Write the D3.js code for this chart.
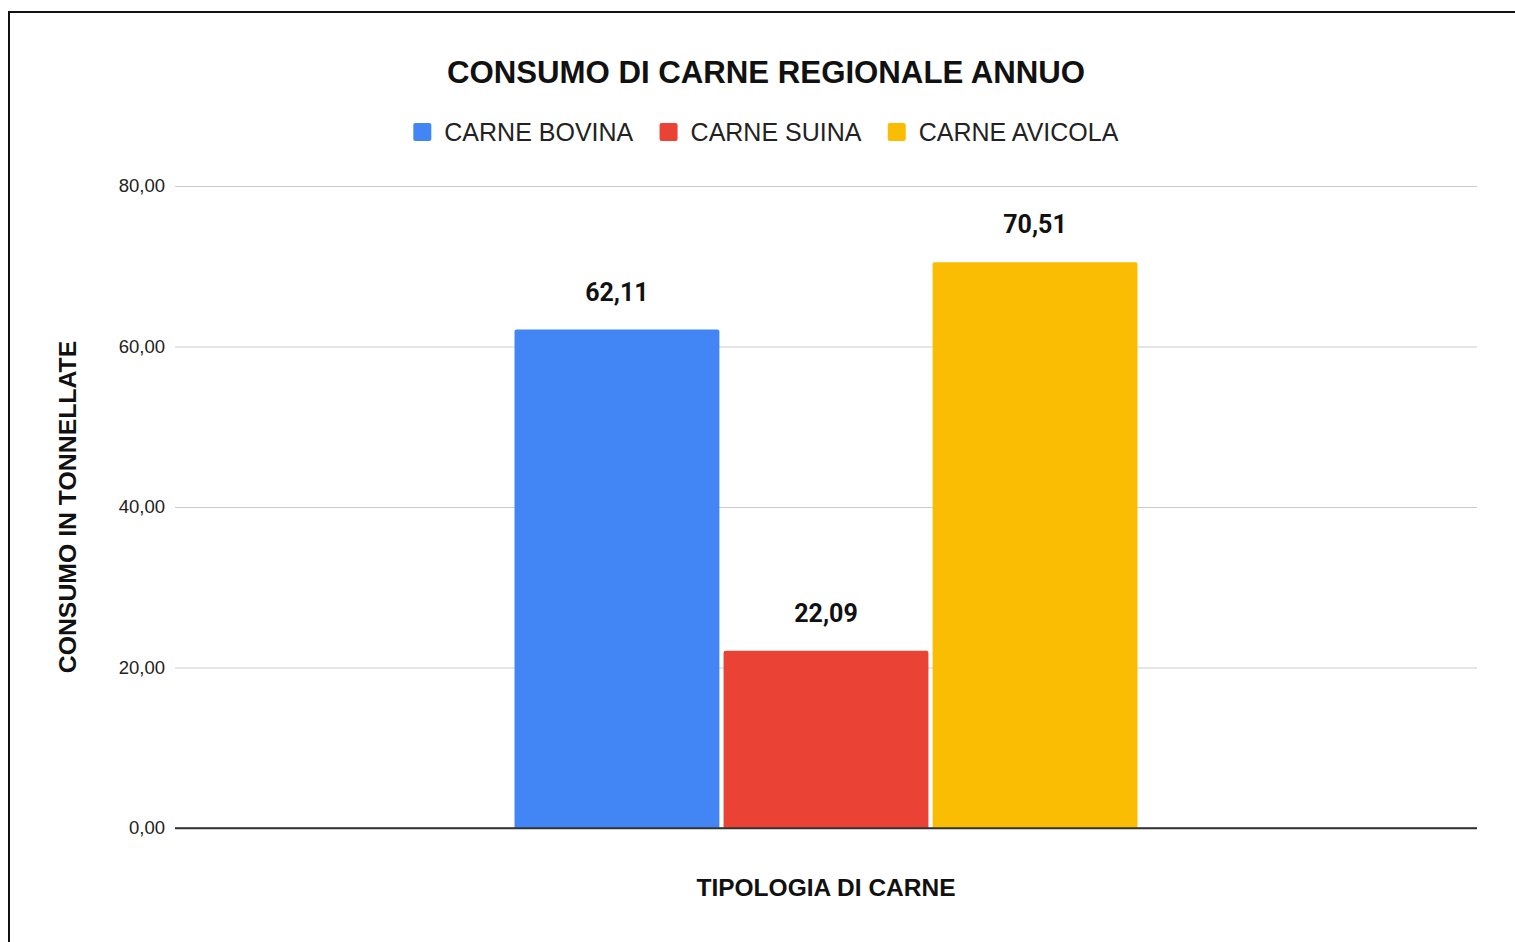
<!DOCTYPE html>
<html>
<head>
<meta charset="utf-8">
<script src="https://cdn.jsdelivr.net/npm/d3@7"></script>
<style>
  html, body { margin: 0; padding: 0; background: #fff; }
  svg { display: block; }
</style>
</head>
<body>
<svg id="chart" width="1515" height="942"></svg>
<script>
// data
const categories = [""];
const seriesNames = ["CARNE BOVINA", "CARNE SUINA", "CARNE AVICOLA"];
const seriesValues = [62.11, 22.09, 70.51];
const seriesColors = ["#4285f4", "#ea4335", "#fbbc04"];
const yTicks = [0, 20, 40, 60, 80];

const svg = d3.select("#chart");
const margin = { top: 186, right: 38, bottom: 114, left: 175 };
const width = 1515 - margin.left - margin.right;
const height = 942 - margin.top - margin.bottom;
const sans = "'Liberation Sans', Arial, sans-serif";

// outer frame
svg.append("rect")
    .attr("x", 9).attr("y", 12)
    .attr("width", 1520).attr("height", 950)
    .attr("fill", "none")
    .attr("stroke", "#111")
    .attr("stroke-width", 2);

const fmt = v => d3.format(".2f")(v).replace(".", ",");

const x0 = d3.scaleBand()
    .domain(categories)
    .range([0, width])
    .paddingInner(0)
    .paddingOuter(0.545);

const x1 = d3.scaleBand()
    .domain(seriesNames)
    .range([0, x0.bandwidth()])
    .paddingInner(0.02)
    .paddingOuter(0);

const y = d3.scaleLinear()
    .domain([0, 80])
    .range([height, 0]);

const g = svg.append("g")
    .attr("transform", `translate(${margin.left},${margin.top})`);

// gridlines + tick labels
const yAxis = g.append("g")
    .call(d3.axisLeft(y).tickValues(yTicks).tickSize(-width).tickFormat(fmt).tickPadding(10));
yAxis.select(".domain").remove();
yAxis.selectAll(".tick line")
    .attr("stroke", d => d === 0 ? "#333" : "#cccccc")
    .attr("stroke-width", d => d === 0 ? 1.5 : 1);
yAxis.selectAll(".tick text")
    .attr("font-family", sans)
    .attr("font-size", 18.5)
    .attr("fill", "#222");

// bars with rounded top corners
const r = 2;
const barPath = (bx, by, bw, bh) =>
    `M${bx},${by + bh}V${by + r}Q${bx},${by} ${bx + r},${by}H${bx + bw - r}Q${bx + bw},${by} ${bx + bw},${by + r}V${by + bh}Z`;

const barData = seriesNames.map((name, i) => ({ cat: categories[0], name, value: seriesValues[i], color: seriesColors[i] }));

g.selectAll(".bar")
    .data(barData)
    .enter()
    .append("path")
    .attr("class", "bar")
    .attr("d", d => barPath(x0(d.cat) + x1(d.name), y(d.value), x1.bandwidth(), height - y(d.value)))
    .attr("fill", d => d.color);

// baseline on top of bars
g.append("line")
    .attr("x1", 0).attr("x2", width)
    .attr("y1", y(0)).attr("y2", y(0))
    .attr("stroke", "#333").attr("stroke-width", 1.5);

// value labels
g.selectAll(".val")
    .data(barData)
    .enter()
    .append("text")
    .attr("class", "val")
    .attr("x", d => x0(d.cat) + x1(d.name) + x1.bandwidth() / 2)
    .attr("y", d => y(d.value) - 29)
    .attr("text-anchor", "middle")
    .attr("font-family", "Roboto, sans-serif")
    .attr("font-weight", "bold")
    .attr("font-size", 25)
    .attr("fill", "#111")
    .text(d => fmt(d.value));

// title
svg.append("text")
    .attr("x", 766).attr("y", 83)
    .attr("text-anchor", "middle")
    .attr("font-family", sans)
    .attr("font-weight", "bold")
    .attr("font-size", 31.2)
    .attr("fill", "#111")
    .text("CONSUMO DI CARNE REGIONALE ANNUO");

// legend
const legend = svg.append("g").attr("transform", "translate(0,132)");
const items = legend.selectAll(".leg")
    .data(barData)
    .enter()
    .append("g")
    .attr("class", "leg");
items.append("rect")
    .attr("width", 18).attr("height", 18)
    .attr("y", -9).attr("rx", 2)
    .attr("fill", d => d.color);
items.append("text")
    .attr("x", 31).attr("y", 9)
    .attr("font-family", sans)
    .attr("font-size", 25)
    .attr("fill", "#222")
    .text(d => d.name);
// lay the items out centred
let widths = [];
items.each(function () { widths.push(this.getBBox().width); });
const gap = 26;
const total = d3.sum(widths) + gap * (widths.length - 1);
let cx = 766 - total / 2;
items.attr("transform", (d, i) => {
    const t = `translate(${cx},0)`;
    cx += widths[i] + gap;
    return t;
});

// axis titles
svg.append("text")
    .attr("x", margin.left + width / 2).attr("y", 896)
    .attr("text-anchor", "middle")
    .attr("font-family", sans)
    .attr("font-weight", "bold")
    .attr("font-size", 24.5)
    .attr("fill", "#111")
    .text("TIPOLOGIA DI CARNE");

svg.append("text")
    .attr("transform", `translate(76,${margin.top + height / 2}) rotate(-90)`)
    .attr("text-anchor", "middle")
    .attr("font-family", sans)
    .attr("font-weight", "bold")
    .attr("font-size", 24.8)
    .attr("fill", "#111")
    .text("CONSUMO IN TONNELLATE");
</script>
</body>
</html>
